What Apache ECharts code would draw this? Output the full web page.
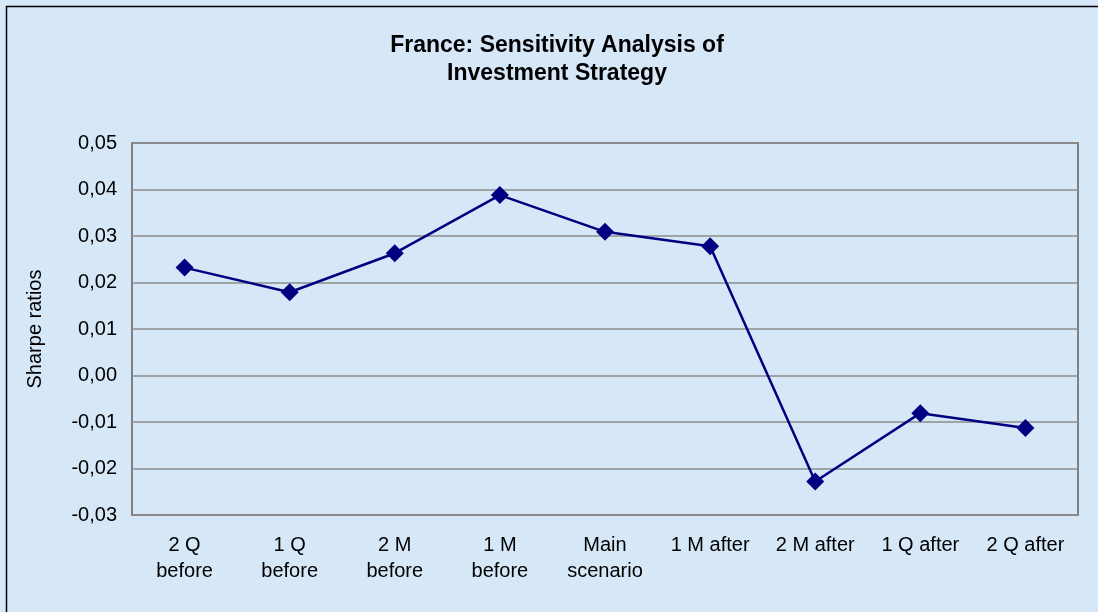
<!DOCTYPE html>
<html>
<head>
<meta charset="utf-8">
<script src="https://cdn.jsdelivr.net/npm/echarts@6/dist/echarts.min.js"></script>
<style>
  html, body { margin: 0; padding: 0; background: #d6e7f8; }
  #chart { width: 1098px; height: 612px; }
</style>
</head>
<body>
<div id="chart"></div>
<script>
var categories = ['2 Q\nbefore', '1 Q\nbefore', '2 M\nbefore', '1 M\nbefore', 'Main\nscenario',
  '1 M after', '2 M after', '1 Q after', '2 Q after'];
var sharpeRatios = [0.0232, 0.0179, 0.0263, 0.0388, 0.0309, 0.0278, -0.0228, -0.0081, -0.0113];

var chart = echarts.init(document.getElementById('chart'));

var font = 'Arial, "Liberation Sans", sans-serif';

var option = {
  backgroundColor: '#d6e7f8',
  animation: false,
  title: {
    text: 'France: Sensitivity Analysis of\nInvestment Strategy',
    left: 552,
    top: 27,
    textAlign: 'center',
    textStyle: {
      fontFamily: font,
      fontSize: 23,
      fontWeight: 'bold',
      color: '#000',
      lineHeight: 28
    }
  },
  graphic: [{
    type: 'rect',
    shape: { x: 6.5, y: 6.5, width: 1300, height: 800 },
    style: { fill: 'none', stroke: '#000', lineWidth: 1.5 },
    silent: true
  }],
  grid: {
    left: 132,
    top: 143,
    right: 20,
    bottom: 97,
    show: true,
    borderColor: '#808080',
    borderWidth: 2,
    backgroundColor: 'transparent'
  },
  xAxis: {
    type: 'category',
    data: categories,
    boundaryGap: true,
    axisLine: { show: false },
    axisTick: { show: false },
    axisLabel: {
      interval: 0,
      margin: 17,
      fontFamily: font,
      fontSize: 20,
      color: '#000',
      lineHeight: 26
    }
  },
  yAxis: {
    type: 'value',
    min: -0.03,
    max: 0.05,
    interval: 0.01,
    name: 'Sharpe ratios',
    nameLocation: 'middle',
    nameGap: 87,
    nameTextStyle: {
      fontFamily: font,
      fontSize: 20,
      color: '#000'
    },
    axisLine: { show: false },
    axisTick: { show: false },
    splitLine: { lineStyle: { color: '#8c8c8c', width: 1.5 } },
    axisLabel: {
      margin: 15,
      fontFamily: font,
      fontSize: 20,
      color: '#000',
      formatter: function (v) {
        return v.toFixed(2).replace('.', ',');
      }
    }
  },
  series: [{
    type: 'line',
    data: sharpeRatios,
    symbol: 'diamond',
    symbolSize: 18,
    lineStyle: { color: '#000080', width: 2.5 },
    itemStyle: { color: '#000080' }
  }]
};

chart.setOption(option);
</script>
</body>
</html>
